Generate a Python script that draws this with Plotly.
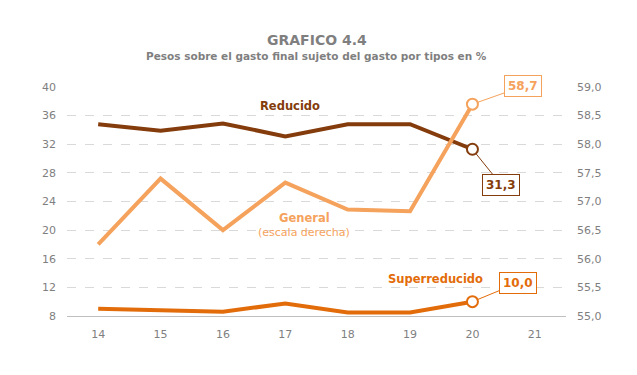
import plotly.graph_objects as go

years = [14, 15, 16, 17, 18, 19, 20]
tick_years = [14, 15, 16, 17, 18, 19, 20, 21]
reducido = [34.8, 33.9, 34.9, 33.1, 34.8, 34.8, 31.3]
general = [56.25, 57.4, 56.5, 57.33, 56.86, 56.83, 58.7]
superreducido = [9.0, 8.75, 8.6, 9.75, 8.5, 8.5, 10.0]
left_ticks = [8, 12, 16, 20, 24, 28, 32, 36, 40]
right_ticks = [55.0, 55.5, 56.0, 56.5, 57.0, 57.5, 58.0, 58.5, 59.0]

C_RED = "#843C0C"
C_GEN = "#F5A25C"
C_SUP = "#E36C0A"
GRAY = "#7F7F7F"
FONT = "DejaVu Sans"

fig = go.Figure()

def add_series(y, color, yaxis):
    fig.add_trace(go.Scatter(
        x=years, y=y, mode="lines", yaxis=yaxis,
        line=dict(color=color, width=4), hoverinfo="skip", showlegend=False))
    fig.add_trace(go.Scatter(
        x=[years[-1]], y=[y[-1]], mode="markers", yaxis=yaxis,
        marker=dict(size=11, color="white", line=dict(color=color, width=2)),
        hoverinfo="skip", showlegend=False))

add_series(reducido, C_RED, "y")
add_series(superreducido, C_SUP, "y")
add_series(general, C_GEN, "y2")

def callout(x, y, yref, text, color, ax, ay):
    fig.add_annotation(
        x=x, y=y, xref="x", yref=yref, text="<b>%s</b>" % text,
        showarrow=True, arrowhead=0, arrowwidth=1, arrowcolor=color,
        ax=ax, ay=ay, standoff=6,
        font=dict(family=FONT, size=12, color=color),
        bgcolor="white", bordercolor=color, borderwidth=1, borderpad=3)

fmt = lambda v: ("%.1f" % v).replace(".", ",")
callout(years[-1], general[-1], "y2", fmt(general[-1]), C_GEN, 51, -18)
callout(years[-1], reducido[-1], "y", fmt(reducido[-1]), C_RED, 29, 36)
callout(years[-1], superreducido[-1], "y", fmt(superreducido[-1]), C_SUP, 46, -19)

# series labels
fig.add_annotation(x=17.08, y=37.3, xref="x", yref="y", text="<b>Reducido</b>", showarrow=False,
                   font=dict(family=FONT, size=11.5, color=C_RED))
fig.add_annotation(x=17.3, y=21.7, xref="x", yref="y", text="<b>General</b>", showarrow=False,
                   font=dict(family=FONT, size=11.5, color=C_GEN))
fig.add_annotation(x=17.3, y=19.6, xref="x", yref="y", text="(escala derecha)", showarrow=False,
                   font=dict(family=FONT, size=11, color=C_GEN))
fig.add_annotation(x=19.4, y=13.2, xref="x", yref="y", text="<b>Superreducido</b>", showarrow=False,
                   font=dict(family=FONT, size=11.5, color=C_SUP))

# titles (plot area spans y pixels 87..316)
fig.add_annotation(x=0.5, y=(316 - 40) / 229, xref="paper", yref="paper", yanchor="middle",
                   text="<b>GRAFICO 4.4</b>",
                   showarrow=False, font=dict(family=FONT, size=14, color=GRAY))
fig.add_annotation(x=0.5, y=(316 - 56) / 229, xref="paper", yref="paper", yanchor="middle",
                   text="<b>Pesos sobre el gasto final sujeto del gasto por tipos en %</b>",
                   showarrow=False, font=dict(family=FONT, size=10.5, color=GRAY))

fig.update_layout(
    width=637, height=375,
    margin=dict(l=67, r=71, t=87, b=59, autoexpand=False),
    plot_bgcolor="white", paper_bgcolor="white",
    separators=",.",
    font=dict(family=FONT, size=11, color=GRAY),
    xaxis=dict(range=[13.5, 21.5], tickvals=tick_years, ticktext=[str(t) for t in tick_years],
               showgrid=False, showline=True, linecolor="#BFBFBF", linewidth=1,
               ticks="", zeroline=False, automargin=False, ticklabelstandoff=8,
               tickfont=dict(color=GRAY, size=11)),
    yaxis=dict(range=[8, 40], tickvals=left_ticks, showgrid=True, gridcolor="#D9D9D9",
               griddash="dash", gridwidth=1, zeroline=False, ticks="", showline=False,
               automargin=False, ticklabelstandoff=10,
               tickfont=dict(color=GRAY, size=11)),
    yaxis2=dict(range=[55, 59], tickvals=right_ticks, tickformat=".1f", overlaying="y",
                side="right", showgrid=False, zeroline=False, ticks="", showline=False,
                automargin=False, ticklabelstandoff=10,
                tickfont=dict(color=GRAY, size=11)),
)

fig.write_html("out.html", config={"displayModeBar": False},
               post_script="document.body.style.margin='0';")
